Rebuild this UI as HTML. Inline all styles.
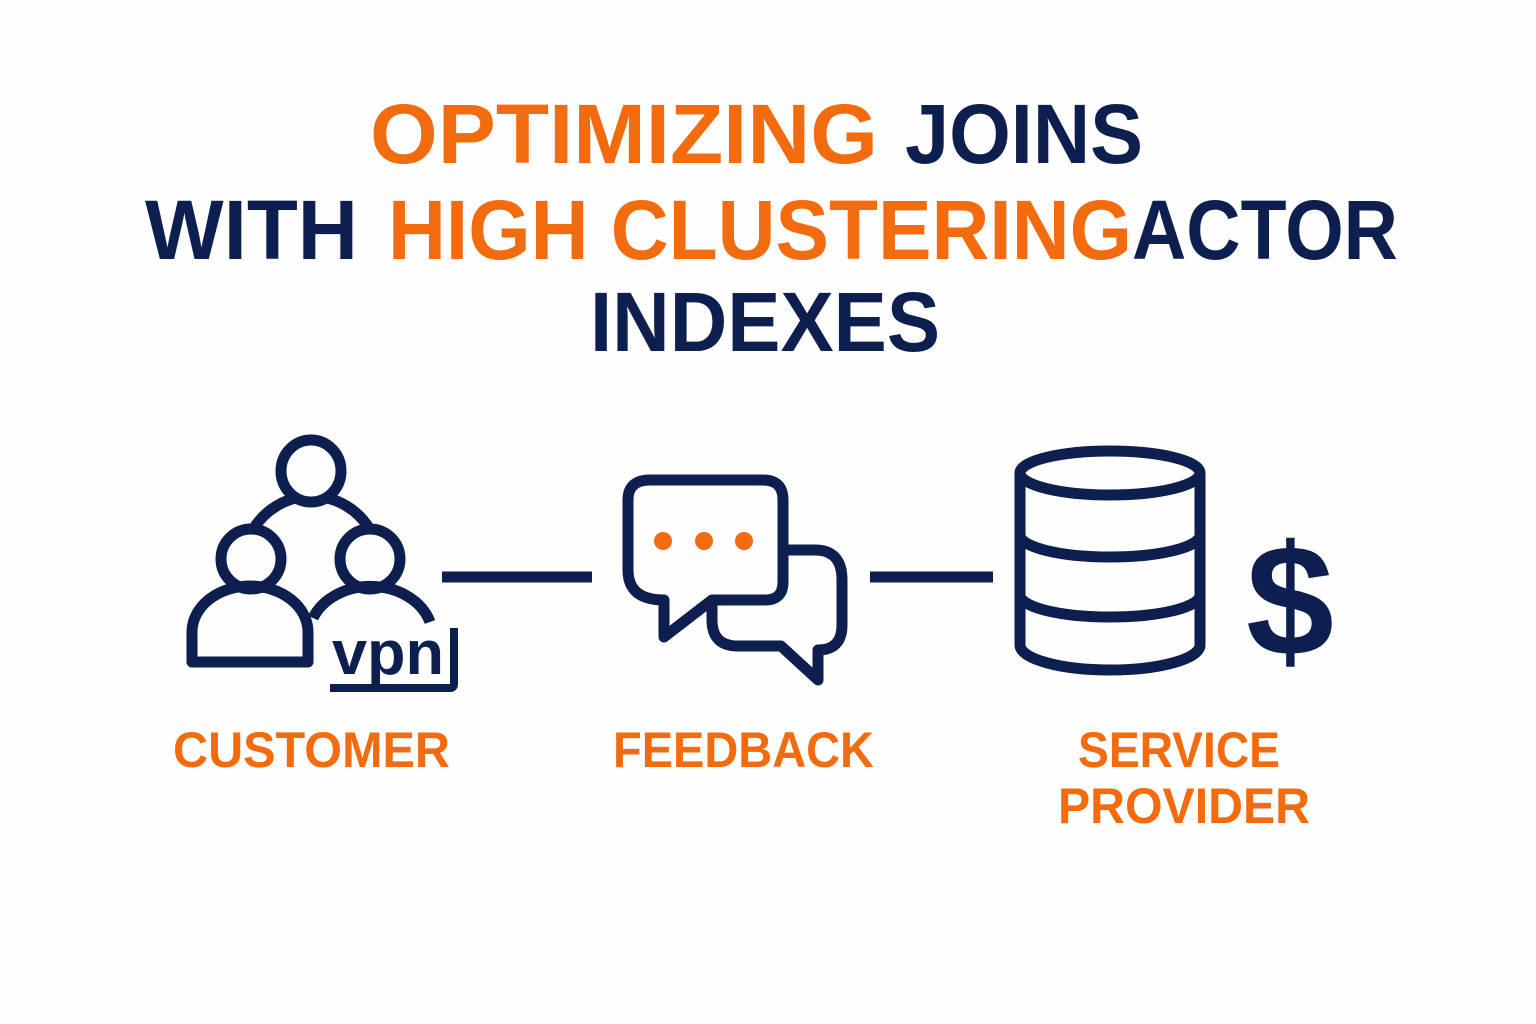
<!DOCTYPE html>
<html><head><meta charset="utf-8"><style>
html,body{margin:0;padding:0;background:#fefefe;}
svg{display:block;}
</style></head><body>
<svg width="1536" height="1024" viewBox="0 0 1536 1024" xmlns="http://www.w3.org/2000/svg">
<rect width="1536" height="1024" fill="#fefefe"/>
<g font-family="'Liberation Sans', 'DejaVu Sans', sans-serif" font-weight="bold" font-size="84">
<text x="370" y="163" fill="#F26B0F" textLength="508" lengthAdjust="spacingAndGlyphs">OPTIMIZING</text>
<text x="905" y="163" fill="#0D1F4F" textLength="238" lengthAdjust="spacingAndGlyphs">JOINS</text>
<text x="145" y="259" fill="#0D1F4F" textLength="213" lengthAdjust="spacingAndGlyphs">WITH</text>
<text x="388" y="259" fill="#F26B0F" textLength="744" lengthAdjust="spacingAndGlyphs">HIGH CLUSTERING</text>
<text x="1132" y="259" fill="#0D1F4F" textLength="266" lengthAdjust="spacingAndGlyphs">ACTOR</text>
<text x="590" y="351" fill="#0D1F4F" textLength="350" lengthAdjust="spacingAndGlyphs">INDEXES</text>
</g>
<g font-family="'Liberation Sans', 'DejaVu Sans', sans-serif" font-weight="bold" font-size="50" fill="#F26B0F">
<text x="173" y="767" textLength="277" lengthAdjust="spacingAndGlyphs">CUSTOMER</text>
<text x="613" y="767" textLength="261" lengthAdjust="spacingAndGlyphs">FEEDBACK</text>
<text x="1078" y="767" textLength="202" lengthAdjust="spacingAndGlyphs">SERVICE</text>
<text x="1058" y="823" textLength="252" lengthAdjust="spacingAndGlyphs">PROVIDER</text>
</g>
<g fill="none" stroke="#0D1F4F" stroke-width="11" stroke-linejoin="round">
<!-- people -->
<path d="M254,528 A68,68 0 0 1 369,528"/>
<ellipse cx="311" cy="471" rx="30" ry="31" fill="#fefefe"/>
<ellipse cx="251" cy="559" rx="30" ry="30"/>
<ellipse cx="370" cy="559" rx="30" ry="30"/>
<path d="M192,662 V632 A58,46 0 0 1 308,632 V662 Z"/>
<path d="M313,618 A62,50 0 0 1 430,622"/>
<path d="M454,628 V684 Q454,688 450,688 H330" stroke-width="8"/>
<!-- connectors -->
<line x1="442" y1="577" x2="592" y2="577"/>
<line x1="870" y1="577" x2="993" y2="577"/>
<!-- chat -->
<path d="M650,480 H763 Q783,480 783,500 V582 Q783,600 765,600 H712 L664,637 V600 Q628,600 628,570 V500 Q628,480 650,480 Z"/>
<path d="M787,550 H815 Q842,550 842,580 V625 Q842,650 818,650 V680 L781,646 H738 Q712,646 712,620 V602"/>
<!-- database -->
<ellipse cx="1110" cy="473" rx="90" ry="22"/>
<path d="M1020,473 V645 A90,25 0 0 0 1200,645 V473"/>
<path d="M1020,535 A90,22 0 0 0 1200,535"/>
<path d="M1020,595 A90,22 0 0 0 1200,595"/>
</g>
<text x="332" y="674" font-family="'Liberation Sans', sans-serif" font-weight="bold" font-size="62" fill="#0D1F4F" textLength="112" lengthAdjust="spacingAndGlyphs">vpn</text>
<g fill="#F26B0F"><circle cx="663" cy="541" r="9"/><circle cx="704" cy="541" r="9"/><circle cx="744" cy="541" r="9"/></g>
<text x="1290" y="655" text-anchor="middle" font-family="'Liberation Sans', sans-serif" font-weight="bold" font-size="158" fill="#0D1F4F">$</text>
</svg>
</body></html>
